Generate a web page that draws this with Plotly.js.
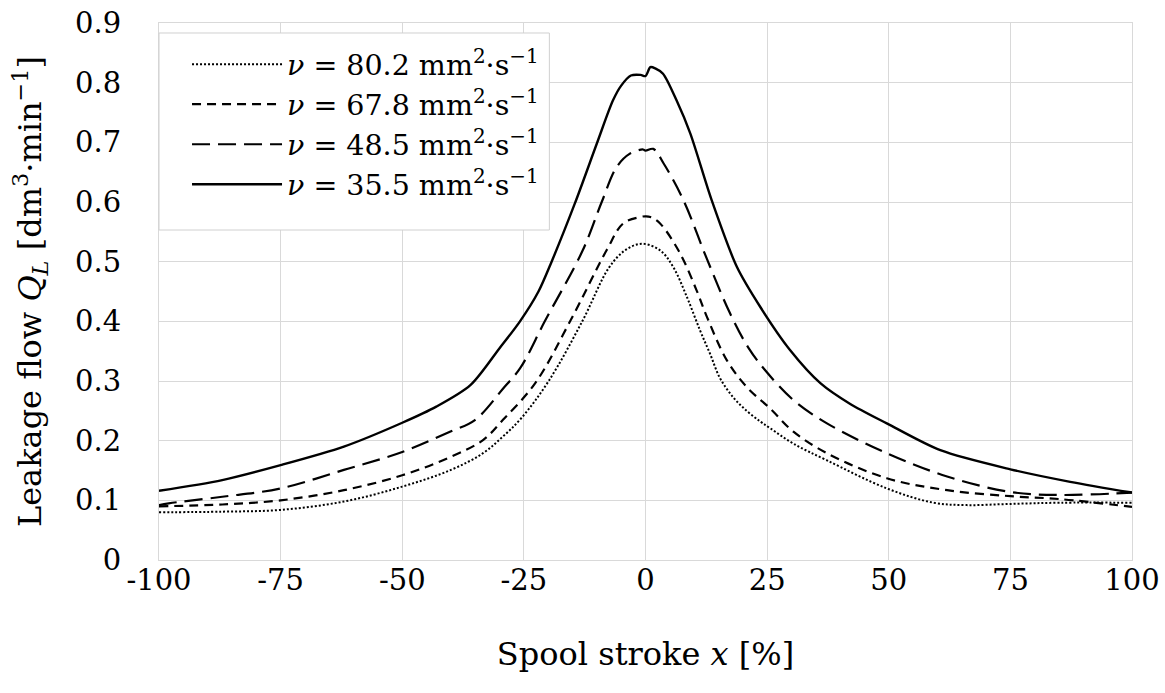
<!DOCTYPE html>
<html>
<head>
<meta charset="utf-8">
<script src="https://cdn.plot.ly/plotly-3.0.1.min.js"></script>
<style>html,body{margin:0;padding:0;background:#fff;}#chart{width:1165px;height:693px;}</style>
</head>
<body>
<div id="chart"></div>
<script>
// Series: leakage flow Q_L [dm3/min] vs spool stroke x [%]
const seriesNames = [
  "<i>ν</i> = 80.2 mm<sup>2</sup>·s<sup>−1</sup>",
  "<i>ν</i> = 67.8 mm<sup>2</sup>·s<sup>−1</sup>",
  "<i>ν</i> = 48.5 mm<sup>2</sup>·s<sup>−1</sup>",
  "<i>ν</i> = 35.5 mm<sup>2</sup>·s<sup>−1</sup>"
];

const x802 = [-100,-87,-75,-62,-50,-40,-33.4,-29.3,-25.5,-19.9,-13,-7.5,-4.2,-0.8,3,5.7,8.5,11.2,13.3,15.3,18,20.8,23.6,25.6,30.4,37.3,49.6,59.2,66,75,85.3,100];
const y802 = [0.08,0.081,0.084,0.098,0.123,0.151,0.179,0.207,0.238,0.3,0.4,0.49,0.519,0.53,0.519,0.491,0.441,0.385,0.345,0.305,0.273,0.25,0.232,0.221,0.195,0.167,0.12,0.096,0.092,0.094,0.096,0.096];

const x678 = [-100,-87,-75,-62,-50,-40,-33.4,-29.3,-22.7,-15.5,-8,-4.6,-1,0,1,3,7.1,10.5,12.6,16.7,20.8,25.6,30.4,37.3,49.6,62,75,85.3,100];
const y678 = [0.09,0.093,0.1,0.117,0.142,0.173,0.201,0.235,0.296,0.4,0.519,0.564,0.575,0.576,0.575,0.564,0.514,0.452,0.408,0.335,0.29,0.254,0.215,0.179,0.137,0.117,0.107,0.102,0.089];

const x485 = [-100,-98,-87,-75,-62,-50,-40.2,-35,-29,-25.8,-20.7,-12.9,-9,-5.9,-3.2,-0.5,0,1.6,3.7,7.8,12.6,17.4,21.2,24.6,30.4,37.3,49.6,62,75,85.3,100];
const y485 = [0.092,0.095,0.106,0.12,0.151,0.181,0.215,0.235,0.29,0.321,0.4,0.519,0.6,0.659,0.681,0.688,0.686,0.689,0.665,0.603,0.505,0.413,0.355,0.318,0.268,0.229,0.179,0.14,0.114,0.109,0.113];

const x355 = [-100,-87,-75,-62,-50,-43,-36,-30,-25.8,-22,-19.3,-14.5,-10,-6.7,-5,-3,-1,0,1,2,3.6,6.4,9.2,13.6,18.8,23.6,29.7,36,42,49.6,60.6,75,87.3,100];
const y355 = [0.116,0.134,0.159,0.19,0.23,0.257,0.293,0.355,0.4,0.45,0.5,0.598,0.698,0.77,0.795,0.812,0.813,0.811,0.826,0.824,0.815,0.77,0.715,0.603,0.491,0.424,0.352,0.296,0.262,0.229,0.184,0.152,0.131,0.113];

const xTicks = [-100,-75,-50,-25,0,25,50,75,100];
const yTicks = [0,0.1,0.2,0.3,0.4,0.5,0.6,0.7,0.8,0.9];
const yTickText = ["0","0.1","0.2","0.3","0.4","0.5","0.6","0.7","0.8","0.9"];

const FONT = "'DejaVu Serif', 'Liberation Serif', serif";

const traces = [
  {x:x802, y:y802, name:seriesNames[0], mode:"lines", line:{color:"#000", width:2, dash:"2px,2px", shape:"spline", smoothing:1}},
  {x:x678, y:y678, name:seriesNames[1], mode:"lines", line:{color:"#000", width:2.2, dash:"9px,6px", shape:"spline", smoothing:1}},
  {x:x485, y:y485, name:seriesNames[2], mode:"lines", line:{color:"#000", width:2.2, dash:"18px,8px", shape:"spline", smoothing:1}},
  {x:x355, y:y355, name:seriesNames[3], mode:"lines", line:{color:"#000", width:2.4, shape:"spline", smoothing:0.8}}
];

const layout = {
  width:1165, height:693,
  margin:{l:159, r:33, t:23, b:133},
  paper_bgcolor:"#fff", plot_bgcolor:"#fff",
  font:{family:FONT, size:30, color:"#000"},
  showlegend:true,
  legend:{x:0.0288, y:0.970, xanchor:"left", yanchor:"top", bgcolor:"rgba(0,0,0,0)", borderwidth:0,
          font:{family:FONT, size:28.5, color:"#000"}, itemwidth:90, tracegroupgap:0},
  shapes:[{type:"rect", xref:"paper", yref:"paper", x0:0, x1:0.4012, y0:0.6145, y1:0.9814,
           line:{color:"#d0d0d0", width:1}, fillcolor:"#fff", layer:"above"}],
  xaxis:{range:[-100,100], tickmode:"array", tickvals:xTicks, ticktext:xTicks.map(String),
         showgrid:true, gridcolor:"#d9d9d9", gridwidth:1, zeroline:false,
         showline:true, linecolor:"#d9d9d9", linewidth:1, mirror:true, ticks:"", ticklabelstandoff:-6,
         tickfont:{family:FONT, size:29, color:"#000"},
         title:{text:"Spool stroke <i>x</i> [%]", font:{family:FONT, size:32, color:"#000"}, standoff:46}},
  yaxis:{range:[0,0.9], tickmode:"array", tickvals:yTicks, ticktext:yTickText,
         showgrid:true, gridcolor:"#d9d9d9", gridwidth:1, zeroline:false,
         showline:true, linecolor:"#d9d9d9", linewidth:1, mirror:true, ticks:"", ticklabelstandoff:31,
         tickfont:{family:FONT, size:29, color:"#000"},
         title:{text:"Leakage flow <i>Q<sub>L</sub></i> [dm<sup>3</sup>·min<sup>−1</sup>]", font:{family:FONT, size:32, color:"#000"}, standoff:23}}
};

Plotly.newPlot("chart", traces, layout, {displayModeBar:false, staticPlot:true});
</script>
</body>
</html>
